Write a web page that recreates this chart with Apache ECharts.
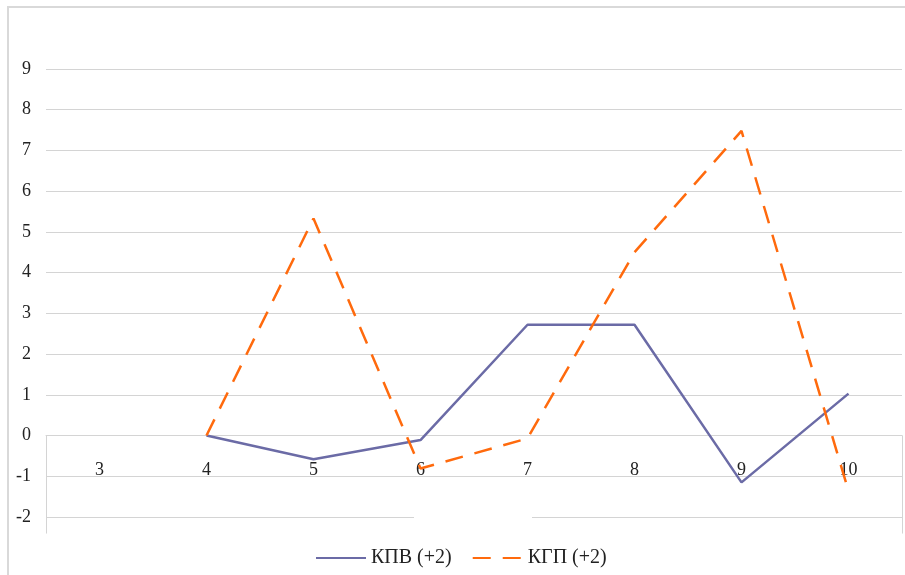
<!DOCTYPE html>
<html>
<head>
<meta charset="utf-8">
<style>
  html, body { margin: 0; padding: 0; background: #fff; }
  #chart { width: 905px; height: 575px; }
</style>
<script src="https://cdn.jsdelivr.net/npm/echarts@6/dist/echarts.min.js"></script>
</head>
<body>
<div id="chart"></div>
<script>
// Grade categories along the horizontal axis
const categories = ['3', '4', '5', '6', '7', '8', '9', '10'];

// Series values (no value for grade 3)
const kpvValues = [null, 0, -0.58, -0.11, 2.72, 2.72, -1.15, 1.03];
const kgpValues = [null, 0, 5.33, -0.81, -0.07, 4.5, 7.48, -1.36];

const seriesNames = ['КПВ (+2)', 'КГП (+2)'];

// Value axis range and step
const yMin = -2;
const yMax = 9;
const yStep = 1;

const serifFont = '"Liberation Serif", "Times New Roman", "DejaVu Serif", serif';
const gridColor = '#d4d4d4';

const chart = echarts.init(document.getElementById('chart'), null, { renderer: 'canvas' });

chart.setOption({
  backgroundColor: '#ffffff',
  animation: false,
  graphic: [
    {
      type: 'rect',
      z: -10,
      shape: { x: 8, y: 7, width: 1000, height: 1000 },
      style: { fill: 'none', stroke: '#d9d9d9', lineWidth: 2 }
    },
    {
      type: 'rect',
      z: 100,
      shape: { x: 414, y: 513, width: 118, height: 8 },
      style: { fill: '#ffffff' }
    }
  ],
  grid: { left: 46, right: 3, top: 69, bottom: 58, containLabel: false },
  legend: {
    data: seriesNames,
    left: 310,
    top: 543,
    itemWidth: 50,
    itemHeight: 14,
    itemGap: 20,
    itemStyle: { opacity: 0 },
    textStyle: { fontFamily: serifFont, fontSize: 20, color: '#222' }
  },
  xAxis: {
    type: 'category',
    data: categories,
    boundaryGap: true,
    axisLine: { show: true, onZero: true, lineStyle: { color: gridColor, width: 1 } },
    // only the outer band edges carry a long rule below the zero line
    axisTick: {
      show: true,
      interval: function (index) { return index === 0; },
      length: 98,
      lineStyle: { color: gridColor, width: 1 }
    },
    // labels sit just under the zero line, inside the plot
    axisLabel: { margin: -56, fontFamily: serifFont, fontSize: 18, color: '#222' }
  },
  yAxis: {
    type: 'value',
    min: yMin,
    max: yMax,
    interval: yStep,
    axisLine: { show: false },
    axisTick: { show: false },
    splitLine: { show: true, lineStyle: { color: gridColor, width: 1 } },
    axisLabel: { margin: 15, fontFamily: serifFont, fontSize: 18, color: '#222' }
  },
  series: [
    {
      name: seriesNames[0],
      type: 'line',
      data: kpvValues,
      symbol: 'none',
      connectNulls: false,
      lineStyle: { color: '#6b6ba6', width: 2.5 },
      itemStyle: { color: '#6b6ba6' },
      z: 3
    },
    {
      name: seriesNames[1],
      type: 'line',
      data: kgpValues,
      symbol: 'none',
      connectNulls: false,
      lineStyle: { color: '#ff6a0d', width: 2.5, type: [18, 12] },
      itemStyle: { color: '#ff6a0d' },
      z: 4
    }
  ]
});
</script>
</body>
</html>
